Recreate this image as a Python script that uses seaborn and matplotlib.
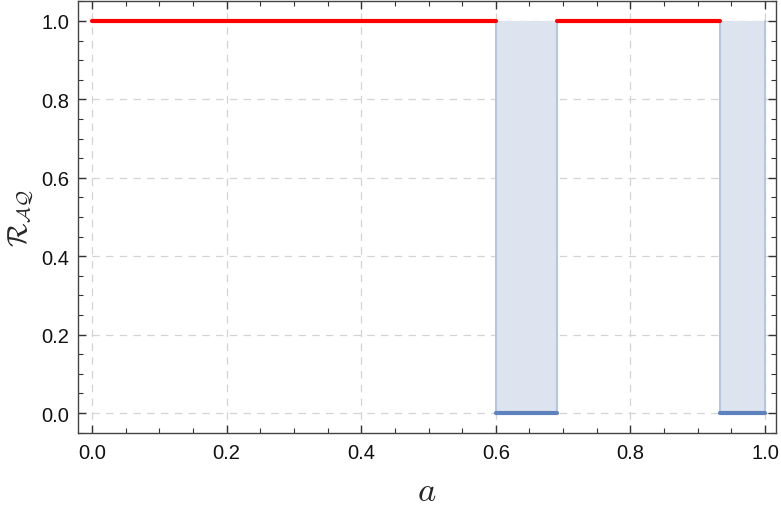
import numpy as np
import pandas as pd
import seaborn as sns
import matplotlib
matplotlib.use("Agg")
import matplotlib.pyplot as plt
from matplotlib.ticker import MultipleLocator

# Data: intervals of a where R_AQ = 1 (red) and where R_AQ = 0 (blue, shaded)
red_starts = [0.0, 0.691]
red_ends = [0.600, 0.933]
red_value = 1.0
blue_starts = [0.600, 0.933]
blue_ends = [0.691, 1.0]
blue_value = 0.0
xticks = [0.0, 0.2, 0.4, 0.6, 0.8, 1.0]
yticks = [0.0, 0.2, 0.4, 0.6, 0.8, 1.0]

sns.set_theme(style="white")
plt.rcParams['font.family'] = ['Liberation Sans', 'DejaVu Sans']
plt.rcParams['mathtext.fontset'] = 'cm'

rows = []
for i, (s, e) in enumerate(zip(red_starts, red_ends)):
    rows += [dict(x=s, y=red_value, seg=f"r{i}", kind="red"), dict(x=e, y=red_value, seg=f"r{i}", kind="red")]
for i, (s, e) in enumerate(zip(blue_starts, blue_ends)):
    rows += [dict(x=s, y=blue_value, seg=f"b{i}", kind="blue"), dict(x=e, y=blue_value, seg=f"b{i}", kind="blue")]
df = pd.DataFrame(rows)

fig = plt.figure(figsize=(7.81, 5.10), dpi=100)
ax = fig.add_axes([78/781, 1-434/510, (776-78)/781, (434-2)/510])

fill_c = "#dde4ef"
edge_c = "#b4c6e0"
for s, e in zip(blue_starts, blue_ends):
    ax.fill_between([s, e], [blue_value, blue_value], [red_value, red_value], color=fill_c, lw=0, zorder=1)
    ax.plot([s, s], [blue_value, red_value], color=edge_c, lw=1.5, zorder=1.5)
    ax.plot([e, e], [blue_value, red_value], color=edge_c, lw=1.5, zorder=1.5)

sns.lineplot(data=df[df.kind == "red"], x="x", y="y", units="seg", estimator=None,
             color="#ff0000", lw=3, ax=ax, zorder=3)
sns.lineplot(data=df[df.kind == "blue"], x="x", y="y", units="seg", estimator=None,
             color="#5e82bd", lw=3, ax=ax, zorder=3)

ax.set_xlim(-0.0208, 1.0163)
ax.set_ylim(-0.051, 1.051)
ax.set_xticks(xticks)
ax.set_yticks(yticks)
ax.set_xticklabels([f"{v:.1f}" for v in xticks])
ax.set_yticklabels([f"{v:.1f}" for v in yticks])
ax.xaxis.set_minor_locator(MultipleLocator(0.05))
ax.yaxis.set_minor_locator(MultipleLocator(0.05))
ax.tick_params(which="both", direction="in", top=True, right=True, bottom=True, left=True,
               color="#333333", labelsize=14.5, labelcolor="#111111")
ax.tick_params(which="major", length=6, width=1)
ax.tick_params(which="minor", length=3.5, width=0.8)
ax.tick_params(axis="x", which="major", pad=7.5)
ax.tick_params(axis="y", which="major", pad=6.5)
ax.grid(True, which="major", color="#d4d4d4", ls=(0, (6, 5)), lw=0.9)
ax.set_axisbelow(True)
for sp in ax.spines.values():
    sp.set_color("#444444")
    sp.set_linewidth(1.0)

ax.set_xlabel(r"$a$", fontsize=25, va="top")
ax.xaxis.set_label_coords((427-78)/698, (434-475)/432)
ax.set_ylabel(r"$\mathcal{R}_{\mathcal{AQ}}$", fontsize=20)
ax.yaxis.set_label_coords((36-78)/698, 0.5)

fig.savefig("out.png", dpi=100)
